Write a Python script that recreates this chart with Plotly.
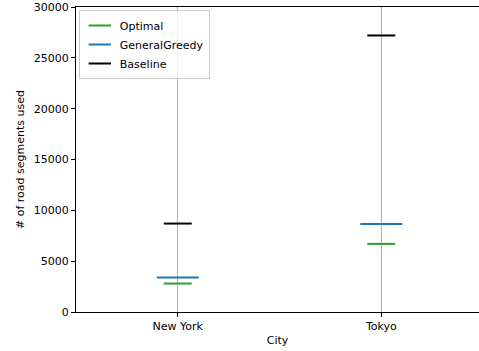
import plotly.graph_objects as go

cities = ["New York", "Tokyo"]
optimal = [2800, 6700]
general_greedy = [3400, 8650]
baseline = [8700, 27200]

fig = go.Figure()
series = [
    ("Optimal", optimal, "#2ca02c", 20),
    ("GeneralGreedy", general_greedy, "#1f77b4", 30),
    ("Baseline", baseline, "#000000", 20),
]
for name, vals, color, size in series:
    fig.add_trace(go.Scatter(
        x=[0, 1], y=vals, mode="markers", name=name,
        marker=dict(symbol="line-ew", size=size, color=color,
                    line=dict(color=color, width=2)),
    ))

font = dict(family="DejaVu Sans", size=11, color="#000000")
fig.update_layout(
    width=479, height=351,
    margin=dict(l=76, r=0, t=7, b=39),
    paper_bgcolor="white", plot_bgcolor="white",
    font=font,
    showlegend=True,
    legend=dict(x=0.007, y=0.99, xanchor="left", yanchor="top",
                bgcolor="rgba(255,255,255,0.8)", bordercolor="#cccccc",
                borderwidth=1, font=font, itemsizing="trace",
                tracegroupgap=0),
    xaxis=dict(
        range=[-0.5, 1.48], tickvals=[0, 1], ticktext=cities,
        showgrid=True, gridcolor="#b0b0b0", gridwidth=0.9,
        showline=True, linecolor="#000000", linewidth=0.9, mirror=True,
        ticks="outside", ticklen=4, tickcolor="#000000", tickwidth=0.9,
        zeroline=False,
        title=dict(text="City", font=font, standoff=4),
    ),
    yaxis=dict(
        range=[0, 30000], tickvals=[0, 5000, 10000, 15000, 20000, 25000, 30000],
        tickformat="d",
        showgrid=False,
        showline=True, linecolor="#000000", linewidth=0.9,
        ticks="outside", ticklen=4, tickcolor="#000000", tickwidth=0.9,
        zeroline=False,
        title=dict(text="# of road segments used", font=font, standoff=6),
    ),
)

fig.write_html("out.html")
